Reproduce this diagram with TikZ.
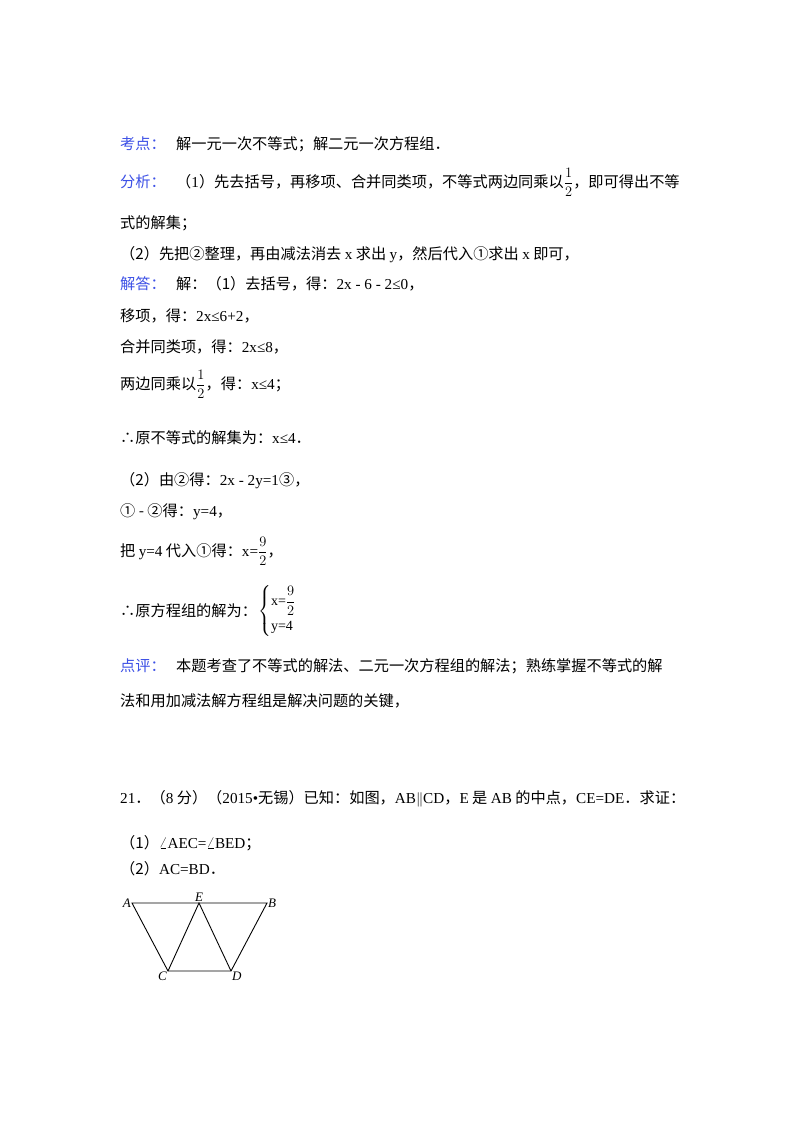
\documentclass[tikz,border=0pt]{standalone}
\usepackage{amsmath}
\usepackage{fontspec}
\setmainfont{Noto Sans CJK SC}
\newfontfamily\lat{Liberation Serif}
\definecolor{lblue}{RGB}{60,80,230}
\begin{document}
\begin{tikzpicture}[x=1pt,y=-1pt,
  t/.style={anchor=base west,inner sep=0pt,font=\fontsize{15.2}{18}\selectfont},
  lb/.style={t,text=lblue},
  pt/.style={font=\lat\itshape\fontsize{13}{15}\selectfont,inner sep=1pt},
  seg/.style={line width=0.9pt}]
\useasboundingbox (0,0) rectangle (800,1132);
\fill[white] (0,0) rectangle (800,1132);
\node[lb] (k1) at (120,149) {考点：};
\node[t] (k2) at (176,149) {解一元一次不等式；解二元一次方程组．};
\node[lb] (f1) at (120,187) {分析：};
\node[t] (f2) at (176,187) {（{\lat 1}）先去括号，再移项、合并同类项，不等式两边同乘以$\dfrac{1}{2}$，即可得出不等};
\node[t] (f3) at (120,228) {式的解集；};
\node[t] (f4) at (120,259) {（2）先把②整理，再由减法消去 {\lat x} 求出 {\lat y}，然后代入①求出 {\lat x} 即可，};
\node[lb] (j1) at (120,289) {解答：};
\node[t] (j2) at (176,289) {解：（1）去括号，得：{\lat 2x - 6 - 2≤0}，};
\node[t] (j3) at (120,321) {移项，得：{\lat 2x≤6+2}，};
\node[t] (j4) at (120,352) {合并同类项，得：{\lat 2x≤8}，};
\node[t] (j5) at (120,389) {两边同乘以$\dfrac{1}{2}$，得：{\lat x≤4}；};
\node[t] (j6) at (120,443) {∴原不等式的解集为：{\lat x≤4}．};
\node[t] (j7) at (120,485) {（2）由②得：{\lat 2x - 2y=1}③，};
\node[t] (j8) at (120,516) {① - ②得：{\lat y=4}，};
\node[t] (j9) at (120,556) {把 {\lat y=4} 代入①得：{\lat x=}$\dfrac{9}{2}$，};
\node[t] (j10) at (120,616) {∴原方程组的解为：};
\node[anchor=west,inner sep=0pt,font=\fontsize{14}{17}\selectfont] (sys) at (258,611) {$\left\{\begin{array}{@{}l@{}}\text{\lat x=}\dfrac{9}{2}\\[8pt] \text{\lat y=4}\end{array}\right.$};
\node[lb] (d1) at (120,671) {点评：};
\node[t] (d2) at (176,671) {本题考查了不等式的解法、二元一次方程组的解法；熟练掌握不等式的解};
\node[t] (d3) at (120,706) {法和用加减法解方程组是解决问题的关键，};
\node[t] (q1) at (120,803) {{\lat 21}．（{\lat 8} 分）（{\lat 2015•}无锡）已知：如图，{\lat AB$\parallel$CD}，{\lat E} 是 {\lat AB} 的中点，{\lat CE=DE}．求证：};
\node[t] (q2) at (120,848) {（1）{\lat $\angle$AEC=$\angle$BED}；};
\node[t] (q3) at (120,874) {（2）{\lat AC=BD}．};
\coordinate (A) at (132,903);
\coordinate (E) at (199,903);
\coordinate (B) at (267,903);
\coordinate (C) at (168,971);
\coordinate (D) at (231,971);
\draw[seg] (A) -- (B) -- (D) -- (C) -- cycle;
\draw[seg] (C) -- (E) -- (D);
\node[pt,anchor=east] (lA) at (A) {A};
\node[pt,anchor=south] (lE) at (E) {E};
\node[pt,anchor=west] (lB) at (B) {B};
\node[pt,anchor=north east] (lC) at (C) {C};
\node[pt,anchor=north west] (lD) at (D) {D};
\end{tikzpicture}
\end{document}
